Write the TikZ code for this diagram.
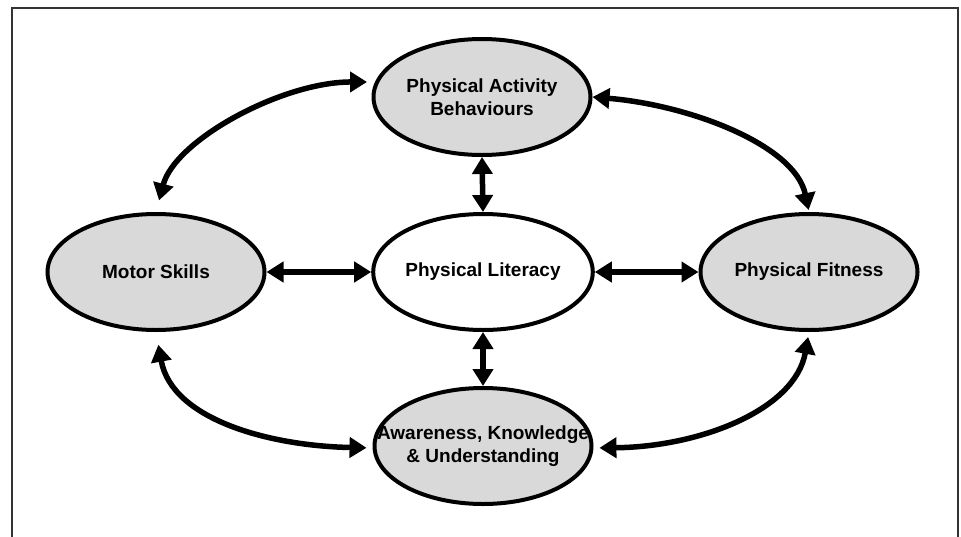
\documentclass[tikz,border=0pt]{standalone}
\usepackage{fontspec}
\setmainfont{Liberation Sans}
\usetikzlibrary{shapes.geometric,arrows.meta}
\definecolor{ovalfill}{HTML}{D9D9D9}
\definecolor{framecol}{HTML}{333333}
\begin{document}
\begin{tikzpicture}[x=1pt,y=-1pt,
  oval/.style={ellipse,draw=black,line width=4pt,minimum width=217pt,minimum height=116pt,
    inner sep=0pt,align=center,font=\fontsize{19}{23}\selectfont\bfseries},
  grayoval/.style={oval,fill=ovalfill},
  whiteoval/.style={oval,fill=white},
  link/.style={line width=5.5pt,black,{Triangle[length=17pt,width=20pt]}-{Triangle[length=17pt,width=20pt]}}]
  \useasboundingbox (0,0) rectangle (961,536);
  % outer frame, open at the bottom
  \draw[framecol,line width=2pt] (12,540) -- (12,8) -- (958,8) -- (958,540);

  \node[grayoval]  (pab) at (482,97)  {Physical Activity\\Behaviours};
  \node[whiteoval] (pl)  at (483,272) {Physical Literacy};
  \node[grayoval]  (ms)  at (156,272) {Motor Skills};
  \node[grayoval]  (pf)  at (809,272) {Physical Fitness};
  \node[grayoval]  (aku) at (483,446) {\makebox[0pt]{Awareness, Knowledge}\\\& Understanding};

  % straight links to the centre
  \draw[link] (pab.south) -- (pl.north);
  \draw[link] (pl.south) -- (aku.north);
  \draw[link] (ms.east) -- (pl.west);
  \draw[link] (pl.east) -- (pf.west);

  % curved links around the ring
  \draw[link,shorten <=12pt,shorten >=8pt] (ms.north) .. controls +(19,-72) and +(-93,0) .. (pab.172);
  \draw[link,shorten >=2pt] (pab.east) .. controls +(97,8) and +(-14,-67) .. (pf.north);
  \draw[link,shorten <=13pt,shorten >=6pt] (ms.south) .. controls +(16,88) and +(-102,-2) .. (aku.181);
  \draw[link,shorten <=5pt,shorten >=6pt] (pf.south) .. controls +(-14,78) and +(106,-1) .. (aku.-1);
\end{tikzpicture}
\end{document}
